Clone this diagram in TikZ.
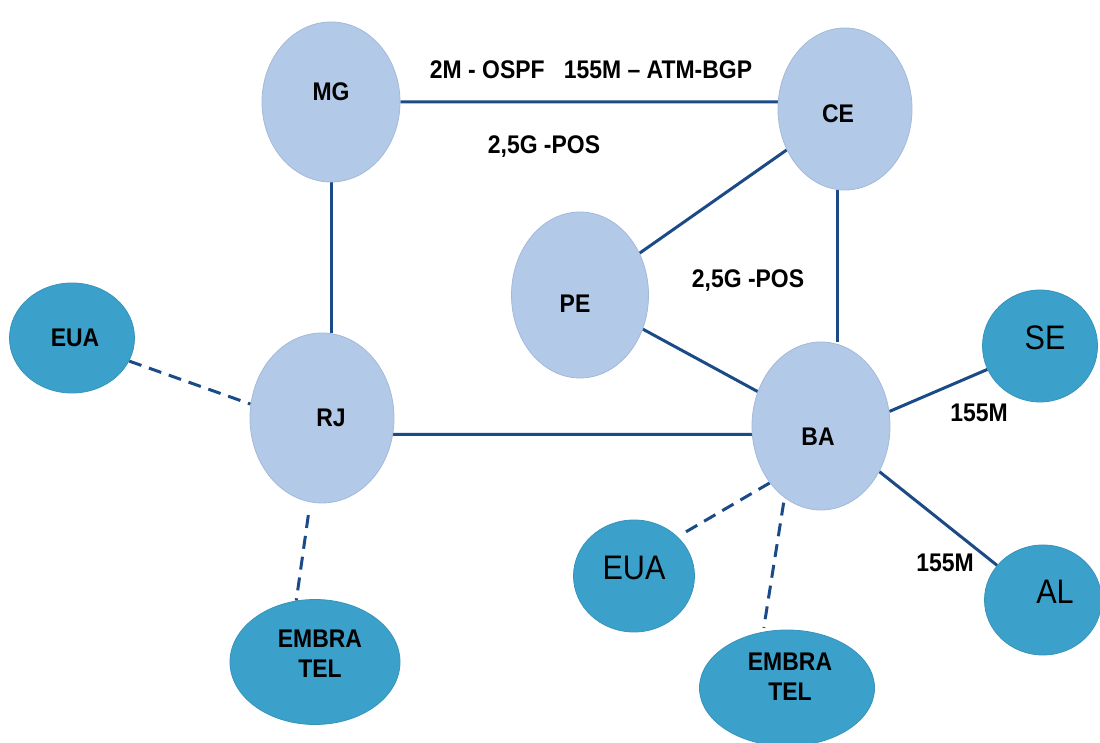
\documentclass[tikz,border=0pt]{standalone}
\usepackage{fontspec}
\setmainfont{Liberation Sans}[FakeStretch=0.9]
\usetikzlibrary{shapes.geometric,backgrounds}
\definecolor{coreblue}{HTML}{B3C9E8}
\definecolor{coreedge}{HTML}{A3B9DA}
\definecolor{extblue}{HTML}{3BA1CB}
\definecolor{extedge}{HTML}{3593BB}
\definecolor{linkblue}{HTML}{1B4B87}
% two-line label
\newcommand{\twoline}[2]{\begin{tabular}{@{}c@{}}#1\\#2\end{tabular}}
% move a label off the ellipse centre without changing its box
\newcommand{\nudge}[3]{\hspace*{#1}\raisebox{#2}[\height][\depth]{#3}\hspace*{-1\dimexpr#1\relax}}
\tikzset{
  core/.style={ellipse, fill=coreblue, draw=coreedge, line width=0.8pt, inner sep=0pt,
    font=\fontsize{25.5}{30}\selectfont\bfseries},
  ext/.style={ellipse, fill=extblue, draw=extedge, line width=0.8pt, inner sep=0pt,
    font=\fontsize{25.5}{30}\selectfont\bfseries},
  extlight/.style={ext, font=\fontsize{34}{38}\selectfont},
  link/.style={draw=linkblue, line width=3pt},
  backup/.style={link, dash pattern=on 13pt off 8pt},
  note/.style={font=\fontsize{25.5}{30}\selectfont\bfseries, inner sep=0pt}
}
\begin{document}
\begin{tikzpicture}[x=1pt,y=1pt]
\path[use as bounding box] (0,0) rectangle (1100,743);

% backbone routers
\node[core, minimum width=138pt, minimum height=160pt] (MG) at (331,641) {\nudge{0pt}{10pt}{MG}};
\node[core, minimum width=134pt, minimum height=162pt] (CE) at (845,634) {\nudge{-7pt}{-5pt}{CE}};
\node[core, minimum width=137pt, minimum height=166pt] (PE) at (580,448) {\nudge{-5pt}{-9pt}{PE}};
\node[core, minimum width=144pt, minimum height=170pt] (RJ) at (322,325) {\nudge{9pt}{0pt}{RJ}};
\node[core, minimum width=138pt, minimum height=168pt] (BA) at (821,317) {\nudge{-3pt}{-11pt}{BA}};

% external links
\node[ext, minimum width=125pt, minimum height=110pt] (EUAa) at (72,405) {\nudge{3pt}{0pt}{EUA}};
\node[extlight, minimum width=115pt, minimum height=112pt] (SE) at (1040,397) {\nudge{5pt}{8pt}{SE}};
\node[ext, minimum width=170pt, minimum height=125pt] (EMBa) at (315,81) {\nudge{5pt}{5pt}{\twoline{EMBRA}{TEL}}};
\node[extlight, minimum width=121pt, minimum height=112pt] (EUAb) at (634,167) {\nudge{0pt}{8pt}{EUA}};
\node[ext, minimum width=175pt, minimum height=116pt] (EMBb) at (787,55) {\nudge{3pt}{8pt}{\twoline{EMBRA}{TEL}}};
\node[extlight, minimum width=117pt, minimum height=110pt] (AL) at (1043,143) {\nudge{12pt}{8pt}{AL}};

% link captions
\node[note] (capMGCE) at (591,673) {2M - OSPF\ \ \ 155M -- ATM-BGP};
\node[note] (capPOSa) at (544,596) {2,5G -POS};
\node[note] (capPOSb) at (748,462) {2,5G -POS};
\node[note] (capSE) at (979,330) {155M};
\node[note] (capAL) at (945,180) {155M};

\begin{scope}[on background layer]
  % backbone
  \draw[link] (MG.0) -- (CE.174);
  \draw[link] (MG.south) -- (MG.south |- RJ.north);
  \draw[link] (CE.265) -- (CE.265 |- BA.north);
  \draw[link] (CE) -- (PE);
  \draw[link] (PE) -- (BA);
  \draw[link] (RJ.-13) -- (BA.187.5);
  \draw[link] (BA.12) -- (SE.204);
  \draw[link] (BA.-38) -- (AL.143);
  % backup links
  \draw[backup] (EUAa.-22) -- (RJ.169);
  \draw[backup, shorten <=13pt] (RJ.262) -- (EMBa.107);
  \draw[backup, shorten >=8pt] (BA.228) -- (EUAb.42);
  \draw[backup, shorten <=5pt, shorten >=4pt] (BA.243) -- (EMBb.113);
\end{scope}
\end{tikzpicture}
\end{document}
